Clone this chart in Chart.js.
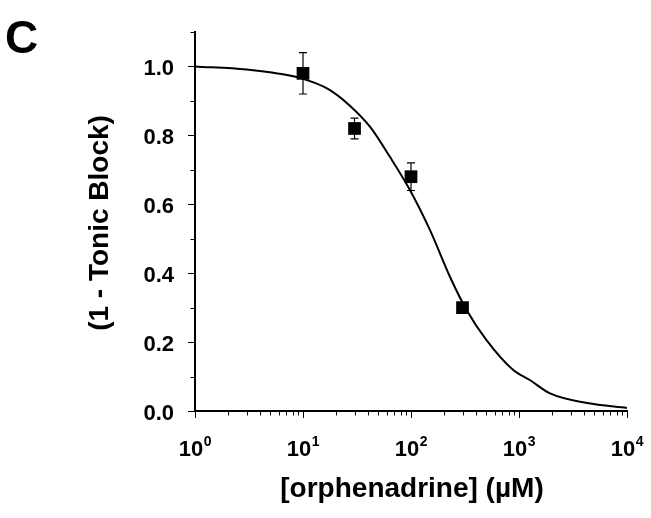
<!DOCTYPE html>
<html><head><meta charset="utf-8">
<script src="https://cdn.jsdelivr.net/npm/chart.js@4/dist/chart.umd.min.js"></script>
<style>html,body{margin:0;padding:0;background:#fff}#wrap{width:651px;height:518px}</style>
</head><body><div id="wrap"><canvas id="c" width="651" height="518"></canvas></div>
<script>
// Measured data (concentration in µM, fraction remaining)
const concentrations = [10, 30, 100, 300];
const meanValues = [0.98, 0.82, 0.68, 0.30];
const errorValues = [0.06, 0.03, 0.04, 0.01];
// Fitted curve
const curveX = [1, 3, 6, 10, 17, 27, 42, 64, 98, 150, 230, 327, 500, 885, 1260, 1940, 4270, 10000];
const curveY = [1.0, 0.991, 0.979, 0.964, 0.935, 0.887, 0.824, 0.737, 0.641, 0.525, 0.389, 0.293, 0.206, 0.119, 0.090, 0.051, 0.023, 0.009];
const yTickValues = [0, 0.1, 0.2, 0.3, 0.4, 0.5, 0.6, 0.7, 0.8, 0.9, 1.0, 1.1];
const yTickLabels = ['0.0', '', '0.2', '', '0.4', '', '0.6', '', '0.8', '', '1.0', ''];
const xDecadeExponents = [0, 1, 2, 3, 4];
const panelLabel = 'C';
const xTitle = '[orphenadrine] (\u00B5M)';
const yTitle = '(1 - Tonic Block)';

const FONT = '"Liberation Sans", Arial, sans-serif';

const decorPlugin = {
  id: 'decor',
  beforeDatasetsDraw(chart) {
    const ctx = chart.ctx, xs = chart.scales.x, ys = chart.scales.y;
    ctx.save();
    ctx.strokeStyle = '#000'; ctx.lineWidth = 1.2;
    concentrations.forEach((c, i) => {
      const px = xs.getPixelForValue(c);
      const top = ys.getPixelForValue(meanValues[i] + errorValues[i]);
      const bot = ys.getPixelForValue(meanValues[i] - errorValues[i]);
      ctx.beginPath();
      ctx.moveTo(px, top); ctx.lineTo(px, bot);
      ctx.moveTo(px - 4, top); ctx.lineTo(px + 4, top);
      ctx.moveTo(px - 4, bot); ctx.lineTo(px + 4, bot);
      ctx.stroke();
    });
    ctx.restore();
  },
  afterDraw(chart) {
    const ctx = chart.ctx, xs = chart.scales.x, ys = chart.scales.y;
    const ca = chart.chartArea;
    ctx.save();
    ctx.strokeStyle = '#000'; ctx.lineWidth = 1; ctx.fillStyle = '#000';
    // y ticks and labels
    yTickValues.forEach((v, i) => {
      const py = Math.round(ys.getPixelForValue(v)) + 0.5;
      const len = (i % 2 === 0) ? 7 : 4.5;
      ctx.beginPath(); ctx.moveTo(ca.left - len, py); ctx.lineTo(ca.left, py); ctx.stroke();
      if (yTickLabels[i]) {
        ctx.font = 'bold 22px ' + FONT;
        ctx.textAlign = 'right'; ctx.textBaseline = 'alphabetic';
        ctx.fillText(yTickLabels[i], ca.left - 21, py + 8);
      }
    });
    // x ticks
    xDecadeExponents.forEach((p) => {
      const base = Math.pow(10, p);
      const px = Math.round(xs.getPixelForValue(base)) + 0.5;
      ctx.beginPath(); ctx.moveTo(px, ca.bottom); ctx.lineTo(px, ca.bottom + 7); ctx.stroke();
      if (p < 4) {
        for (let m = 2; m <= 9; m++) {
          const mx = Math.round(xs.getPixelForValue(base * m)) + 0.5;
          ctx.beginPath(); ctx.moveTo(mx, ca.bottom); ctx.lineTo(mx, ca.bottom + 4.5); ctx.stroke();
        }
      }
    });
    // x labels 10^p
    ctx.textBaseline = 'alphabetic';
    xDecadeExponents.forEach((p) => {
      const px = xs.getPixelForValue(Math.pow(10, p));
      ctx.font = 'bold 22px ' + FONT;
      const w1 = ctx.measureText('10').width;
      ctx.font = 'bold 14px ' + FONT;
      const w2 = ctx.measureText(String(p)).width;
      const x0 = px - (w1 + w2) / 2;
      ctx.font = 'bold 22px ' + FONT;
      ctx.textAlign = 'left';
      ctx.fillText('10', x0, 456);
      ctx.font = 'bold 14px ' + FONT;
      ctx.fillText(String(p), x0 + w1 + 0.5, 446);
    });
    // titles
    ctx.font = 'bold 28px ' + FONT;
    ctx.textAlign = 'center';
    ctx.fillText(xTitle, 412, 497);
    ctx.save();
    ctx.translate(100, 223);
    ctx.rotate(-Math.PI / 2);
    ctx.textBaseline = 'middle';
    ctx.fillText(yTitle, 0, 0);
    ctx.restore();
    ctx.font = 'bold 46px ' + FONT;
    ctx.textAlign = 'left';
    ctx.textBaseline = 'alphabetic';
    ctx.fillText(panelLabel, 5, 53);
    ctx.restore();
  }
};

new Chart(document.getElementById('c'), {
  type: 'scatter',
  data: {
    datasets: [
      {
        data: curveX.map((x, i) => ({ x: x, y: curveY[i] })),
        showLine: true, pointRadius: 0, borderColor: '#000', borderWidth: 2,
        cubicInterpolationMode: 'monotone', fill: false
      },
      {
        data: concentrations.map((x, i) => ({ x: x, y: meanValues[i] })),
        pointStyle: 'rect', pointRadius: 9, pointHoverRadius: 9,
        backgroundColor: '#000', borderColor: '#000', borderWidth: 0, showLine: false
      }
    ]
  },
  options: {
    responsive: false, animation: false, devicePixelRatio: 1,
    layout: { padding: { left: 0, top: 32, right: 24, bottom: 0 } },
    plugins: { legend: { display: false }, tooltip: { enabled: false } },
    scales: {
      x: {
        type: 'logarithmic', min: 1, max: 10000,
        ticks: { display: false },
        grid: { display: false },
        border: { display: true, color: '#000', width: 2 },
        afterFit(s) { s.height = 107; }
      },
      y: {
        type: 'linear', min: 0, max: 1.1,
        ticks: { display: false },
        grid: { display: false },
        border: { display: true, color: '#000', width: 2 },
        afterFit(s) { s.width = 195; }
      }
    }
  },
  plugins: [decorPlugin]
});
</script></body></html>
